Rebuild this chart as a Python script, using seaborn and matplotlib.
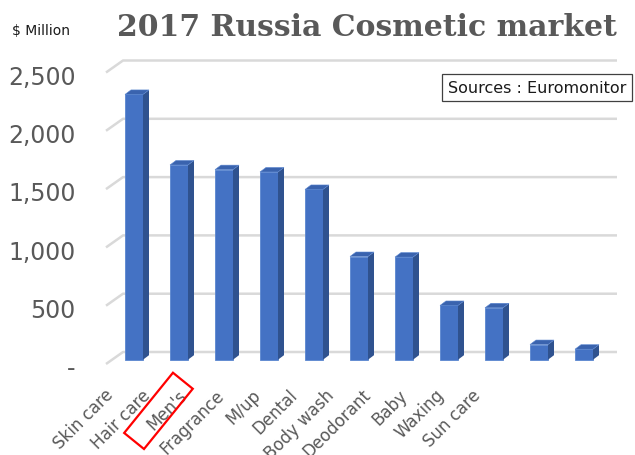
"""2017 Russia cosmetic market - pseudo 3D column chart"""
import matplotlib
matplotlib.use('Agg')
import matplotlib.pyplot as plt
import matplotlib.patches as mpatches
from matplotlib.transforms import ScaledTranslation
import numpy as np
import seaborn as sns

categories = ['Skin care', 'Hair care', "Men's", 'Fragrance', 'M/up', 'Dental',
              'Body wash', 'Deodorant', 'Baby', 'Waxing', 'Sun care']
values = [2275, 1670, 1630, 1610, 1460, 885, 880, 465, 445, 130, 90]
tick_vals = [0, 500, 1000, 1500, 2000, 2500]
tick_labels = ['-', '500', '1,000', '1,500', '2,000', '2,500']

sns.set_style('white')
plt.rcParams['font.family'] = ['DejaVu Sans']

fig = plt.figure(figsize=(6.35, 4.56), dpi=100)
ax = fig.add_axes([106 / 635, 91 / 456, 511 / 635, 325 / 456])

# geometry (pixels)
px_cat = 45.0            # pixels between bars
u = 500 / 58.3           # data units per pixel (y)
xlim = (-(134 - 106) / px_cat, 10 + (617 - 584) / px_cat)
ylim = (-4.3 * u, -4.3 * u + 325 * u)

sns.barplot(x=categories, y=values, color='#4472c4', saturation=1, width=0.4,
            edgecolor='#5a86d0', linewidth=0.6, ax=ax, zorder=3)

# 3D faces
side_dx = 6 / px_cat
side_dy = 4.5 * u
for p in ax.patches:
    x0, w, h = p.get_x(), p.get_width(), p.get_height()
    side = [(x0 + w, 0), (x0 + w + side_dx, side_dy),
            (x0 + w + side_dx, h + side_dy), (x0 + w, h)]
    top = [(x0, h), (x0 + side_dx, h + side_dy),
           (x0 + w + side_dx, h + side_dy), (x0 + w, h)]
    ax.add_patch(mpatches.Polygon(side, closed=True, fc='#2f528f', ec='none', zorder=3))
    ax.add_patch(mpatches.Polygon(top, closed=True, fc='#3a63ae', ec='#5a86d0',
                                  lw=0.4, zorder=3))

# back wall grid lines with floor slant
depth_dx = 17 / px_cat
for v in tick_vals:
    ax.plot([xlim[0], xlim[0] + depth_dx, xlim[1]],
            [v - 4.3 * u, v + 7.7 * u, v + 7.7 * u],
            color='#d9d9d9', lw=1.8, zorder=0, clip_on=False,
            solid_capstyle='butt')

ax.set_xlim(xlim)
ax.set_ylim(ylim)
for s in ax.spines.values():
    s.set_visible(False)

ax.set_yticks(tick_vals, tick_labels)
ax.tick_params(axis='y', length=0, labelsize=17, labelcolor='#595959', pad=22)
for lab in ax.get_yticklabels():
    lab.set_transform(lab.get_transform() + ScaledTranslation(0, -0.06, fig.dpi_scale_trans))

label_step = 36.7 / px_cat
label_pos = [(111 - 134) / px_cat + i * label_step for i in range(len(categories))]
ax.set_xticks(label_pos, categories, rotation=45, ha='right', va='center',
              rotation_mode='anchor')
ax.tick_params(axis='x', length=0, labelsize=12, labelcolor='#595959', pad=20)
ax.set_xlabel('')

# red highlight box around Men's
box = mpatches.Rectangle((1.44, 0.06), 0.775, 0.255, angle=51,
                         transform=fig.dpi_scale_trans, fill=False,
                         ec='#ff0000', lw=1.6)
fig.patches.append(box)

fig.text(367 / 635, 1 - 28 / 456, '2017 Russia Cosmetic market',
         family='DejaVu Serif', weight='bold', fontsize=21.5,
         color='#595959', ha='center', va='center')
fig.text(12 / 635, 1 - 31 / 456, '$ Million', fontsize=10, color='#1a1a1a',
         ha='left', va='center')
fig.text(537 / 635, 1 - 88.5 / 456, 'Sources : Euromonitor', fontsize=11.5,
         color='#1a1a1a', ha='center', va='center',
         bbox=dict(boxstyle='square,pad=0.35', fc='white', ec='#404040', lw=0.9))

fig.savefig('out.png', dpi=100)
